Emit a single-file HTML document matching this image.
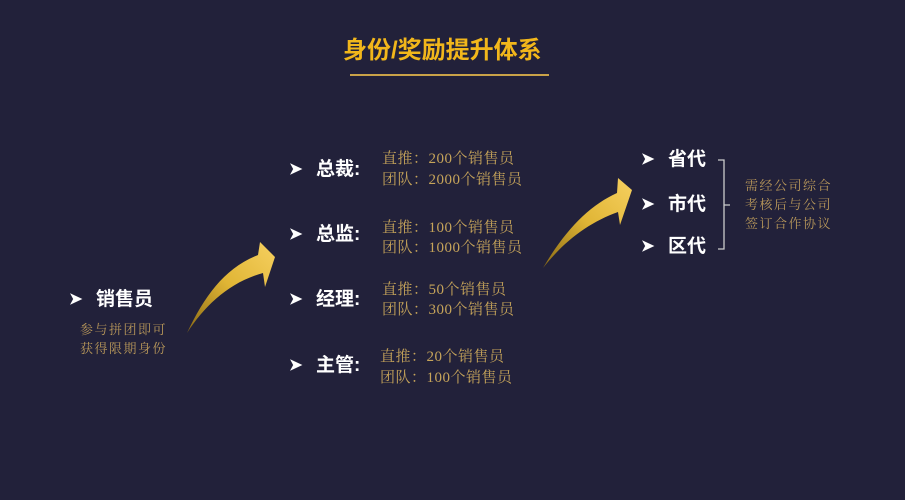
<!DOCTYPE html>
<html><head><meta charset="utf-8"><style>
body{margin:0;width:905px;height:500px;background:#22213a;overflow:hidden;position:relative;font-family:"Liberation Sans","Noto Sans CJK SC",sans-serif}
.t{position:absolute;white-space:nowrap;line-height:1}
.h{color:#fff;font-weight:bold;font-size:19px}
.ar{color:#fff;font-size:16px;font-weight:bold}
.d{color:#c6a45a;font-family:"Liberation Serif","Noto Serif CJK SC",serif;font-size:15px;letter-spacing:0.5px}
.s{color:#b9985a;font-family:"Liberation Serif","Noto Serif CJK SC",serif;font-size:13px;letter-spacing:1.5px;line-height:19px}
</style></head><body>
<div class="t" style="left:343px;top:39px;font-size:24px;font-weight:bold;color:#f2b71b;letter-spacing:0px">身份/奖励提升体系</div>
<div style="position:absolute;left:350px;top:74px;width:199px;height:2px;background:#c9a248"></div>

<svg style="position:absolute;left:0;top:0" width="905" height="500">
<defs><linearGradient id="g" x1="0" y1="1" x2="1" y2="0">
<stop offset="0" stop-color="#8a6a14"/><stop offset="0.5" stop-color="#e0b535"/><stop offset="1" stop-color="#f6d060"/></linearGradient></defs>
<path d="M187,333 C205,295 225,268 258,255 L260,242 L275,257 L265,287 L263,273 C230,282 205,305 187,333 Z" fill="url(#g)"/>
<path d="M543,268 C565,230 590,205 617,193 L618,178 L632,190 L620,225 L618,212 C590,222 565,240 543,268 Z" fill="url(#g)"/>
<path d="M718,160 L724,160 L724,249 L718,249 M724,205 L730,205" stroke="#ccc" stroke-width="1.3" fill="none"/>
</svg>

<div class="t ar" style="left:69px;top:292px">&#10148;</div>
<div class="t h" style="left:96px;top:290px">销售员</div>
<div class="t s" style="left:80px;top:320px">参与拼团即可<br>获得限期身份</div>

<div class="t ar" style="left:289px;top:162px">&#10148;</div>
<div class="t h" style="left:316px;top:160px">总裁:</div>
<div class="t d" style="left:382px;top:152px">直推：200个销售员</div>
<div class="t d" style="left:382px;top:173px">团队：2000个销售员</div>

<div class="t ar" style="left:289px;top:227px">&#10148;</div>
<div class="t h" style="left:316px;top:225px">总监:</div>
<div class="t d" style="left:382px;top:221px">直推：100个销售员</div>
<div class="t d" style="left:382px;top:241px">团队：1000个销售员</div>

<div class="t ar" style="left:289px;top:292px">&#10148;</div>
<div class="t h" style="left:316px;top:290px">经理:</div>
<div class="t d" style="left:382px;top:283px">直推：50个销售员</div>
<div class="t d" style="left:382px;top:303px">团队：300个销售员</div>

<div class="t ar" style="left:289px;top:358px">&#10148;</div>
<div class="t h" style="left:316px;top:356px">主管:</div>
<div class="t d" style="left:380px;top:350px">直推：20个销售员</div>
<div class="t d" style="left:380px;top:371px">团队：100个销售员</div>

<div class="t ar" style="left:641px;top:152px">&#10148;</div>
<div class="t h" style="left:668px;top:150px">省代</div>
<div class="t ar" style="left:641px;top:197px">&#10148;</div>
<div class="t h" style="left:668px;top:195px">市代</div>
<div class="t ar" style="left:641px;top:239px">&#10148;</div>
<div class="t h" style="left:668px;top:237px">区代</div>
<div class="t s" style="left:745px;top:176px">需经公司综合<br>考核后与公司<br>签订合作协议</div>
</body></html>
